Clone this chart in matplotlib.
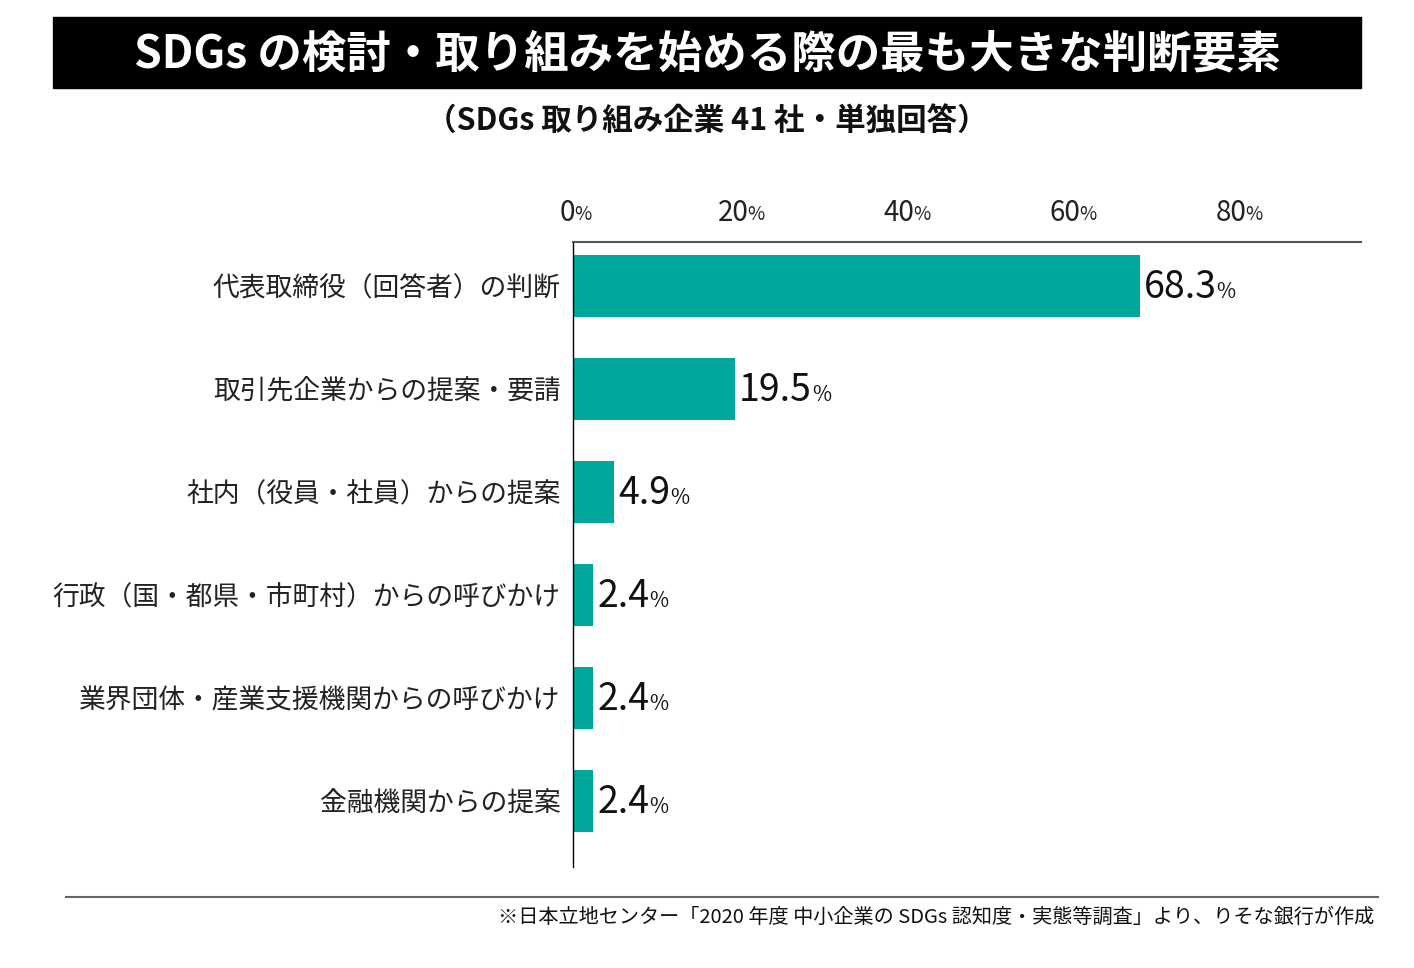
import matplotlib
matplotlib.use('Agg')
import matplotlib.pyplot as plt
from matplotlib.patches import Rectangle
from matplotlib.lines import Line2D

plt.rcParams['font.family'] = ['Noto Sans CJK JP', 'DejaVu Sans']

categories = ['代表取締役（回答者）の判断',
              '取引先企業からの提案・要請',
              '社内（役員・社員）からの提案',
              '行政（国・都県・市町村）からの呼びかけ',
              '業界団体・産業支援機関からの呼びかけ',
              '金融機関からの提案']
values = [68.3, 19.5, 4.9, 2.4, 2.4, 2.4]
xticks = [0, 20, 40, 60, 80]
title = 'SDGs の検討・取り組みを始める際の最も大きな判断要素'
subtitle = '（SDGs 取り組み企業 41 社・単独回答）'
source = '※日本立地センター「2020 年度 中小企業の SDGs 認知度・実態等調査」より、りそな銀行が作成'

W, H = 1414, 968
fig = plt.figure(figsize=(W / 100, H / 100), dpi=100)

# title box
fig.add_artist(Rectangle((53 / W, 1 - 88 / H), 1308 / W, 71 / H,
                         transform=fig.transFigure, color='black'))
fig.text(707 / W, 1 - 55 / H, title, color='white', fontsize=32,
         fontweight='bold', ha='center', va='center')
fig.text(707 / W, 1 - 121 / H, subtitle, color='#111111', fontsize=22,
         fontweight='bold', ha='center', va='center')

ax = fig.add_axes([573 / W, 1 - 867 / H, (1361 - 573) / W, (867 - 242) / H])
y = list(range(len(categories)))
ax.barh(y, values, height=0.6, color='#00A79D')
ax.set_xlim(0, 95)
ax.set_ylim(5.64, -0.427)

for s in ['right', 'bottom']:
    ax.spines[s].set_visible(False)
ax.spines['top'].set_color('#555555')
ax.spines['top'].set_linewidth(1.5)
ax.spines['left'].set_color('black')
ax.spines['left'].set_linewidth(1.0)

ax.set_yticks(y)
ax.set_yticklabels(categories, fontsize=19.3, color='#222222')
ax.tick_params(axis='y', length=0, pad=9)
ax.set_xticks([])

# x tick labels above the axis
for t in xticks:
    num = ax.annotate(str(t), xy=(t, 1), xycoords=ax.get_xaxis_transform(),
                      xytext=(-4, 21), textcoords='offset points',
                      ha='center', va='center', fontsize=20, color='#222222')
    ax.annotate('%', xy=(1, 0), xycoords=num, xytext=(-1, 2),
                textcoords='offset points', ha='left', va='bottom',
                fontsize=13.5, color='#222222')

# value labels
for i, v in enumerate(values):
    num = ax.annotate(f'{v}', xy=(v, i), xytext=(3, -1),
                      textcoords='offset points', ha='left', va='center',
                      fontsize=27, color='#111111')
    ax.annotate('%', xy=(1, 0), xycoords=num, xytext=(0, 3),
                textcoords='offset points', ha='left', va='bottom',
                fontsize=15, color='#111111')

# source line and note
fig.add_artist(Line2D([66 / W, 1378 / W], [1 - 897 / H] * 2,
                      transform=fig.transFigure, color='#666666', lw=1.5))
fig.text(1374 / W, 1 - 917 / H, source, fontsize=14.5, color='#111111',
         ha='right', va='center')

fig.savefig('out.png', dpi=100)
